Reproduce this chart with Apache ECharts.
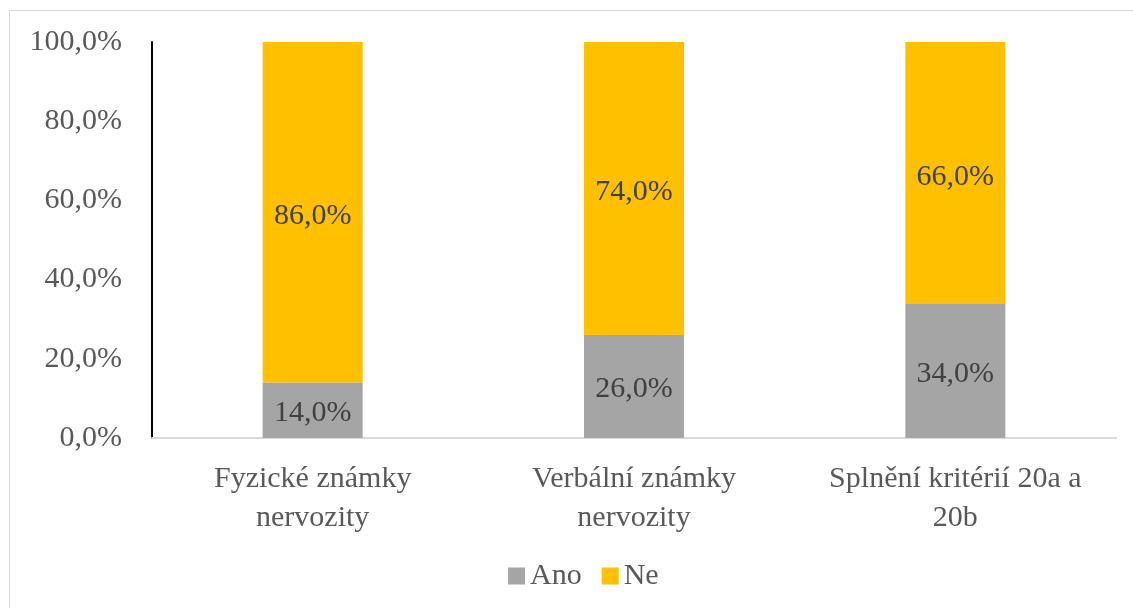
<!DOCTYPE html>
<html>
<head>
<meta charset="utf-8">
<script src="https://cdn.jsdelivr.net/npm/echarts@6/dist/echarts.min.js"></script>
<style>
  html, body { margin: 0; padding: 0; background: #fff; }
  #frame {
    position: absolute; left: 9px; top: 10px; width: 1140px; height: 620px;
    border: 1px solid #d9d9d9; box-sizing: border-box;
  }
  #chart { position: absolute; left: 0; top: 0; width: 1133px; height: 608px; }
</style>
</head>
<body>
<div id="frame"></div>
<div id="chart"></div>
<script>
// kategorie a hodnoty (v %)
var categories = ['Fyzické známky\nnervozity', 'Verbální známky\nnervozity', 'Splnění kritérií 20a a\n20b'];
var anoValues = [14.0, 26.0, 34.0];
var neValues = [86.0, 74.0, 66.0];
var seriesNames = ['Ano', 'Ne'];

var font = '"Liberation Serif", "Times New Roman", serif';

function pct(v) {
  return v.toFixed(1).replace('.', ',') + '%';
}

var myChart = echarts.init(document.getElementById('chart'));
var option = {
  backgroundColor: 'transparent',
  animation: false,
  grid: { left: 152, right: 17, top: 42, bottom: 170 },
  legend: {
    data: seriesNames,
    left: 503,
    top: 556,
    itemWidth: 17,
    itemHeight: 17,
    itemGap: 20,
    icon: 'rect',
    textStyle: { fontFamily: font, fontSize: 30, color: '#595959' }
  },
  xAxis: {
    type: 'category',
    data: categories,
    axisLine: { lineStyle: { color: '#d9d9d9', width: 2 } },
    axisTick: { show: false },
    axisLabel: {
      margin: 22,
      fontFamily: font,
      fontSize: 30,
      lineHeight: 39,
      color: '#595959',
      interval: 0
    }
  },
  yAxis: {
    type: 'value',
    min: 0,
    max: 100,
    interval: 20,
    axisLine: { show: true, lineStyle: { color: '#000', width: 2 } },
    axisTick: { show: false },
    splitLine: { show: false },
    axisLabel: {
      margin: 30,
      fontFamily: font,
      fontSize: 30,
      color: '#595959',
      formatter: function (v) { return pct(v); }
    }
  },
  series: [{
    name: 'Ano',
    type: 'bar',
    stack: 'total',
    barWidth: 100,
    itemStyle: { color: '#A5A5A5' },
    label: {
      show: true,
      position: 'inside',
      offset: [0, 3],
      fontFamily: font,
      fontSize: 30,
      color: '#404040',
      formatter: function (p) { return pct(p.value); }
    },
    data: anoValues
  }, {
    name: 'Ne',
    type: 'bar',
    stack: 'total',
    barWidth: 100,
    itemStyle: { color: '#FFC000' },
    label: {
      show: true,
      position: 'inside',
      offset: [0, 4],
      fontFamily: font,
      fontSize: 30,
      color: '#404040',
      formatter: function (p) { return pct(p.value); }
    },
    data: neValues
  }]
};
myChart.setOption(option);
</script>
</body>
</html>
